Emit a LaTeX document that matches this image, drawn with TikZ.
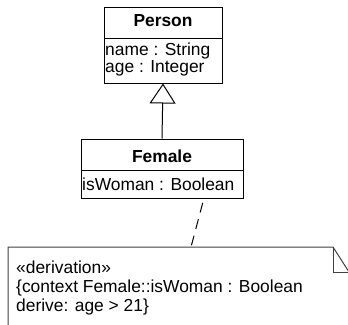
\documentclass[tikz,border=0pt]{standalone}
\usepackage{fontspec}
\setmainfont{Liberation Sans}
\usetikzlibrary{arrows.meta}
\tikzset{
  x=1pt, y=-1pt,
  umlbox/.style={draw, line width=1pt, inner sep=0pt, minimum width=#1},
  txt/.style={inner sep=0pt, anchor=base west, font=\fontsize{17.4}{19.5}\selectfont},
  ttl/.style={inner sep=0pt, anchor=base, font=\fontsize{17.4}{19.5}\selectfont\bfseries},
  notebox/.style={draw=black!75, line width=1pt},
  gen/.style={line width=1pt, -{Triangle[open, length=20pt, width=26pt, line width=1pt]}},
  link/.style={line width=1pt, dash pattern=on 10pt off 7pt, dash phase=12pt}
}
\begin{document}
\begin{tikzpicture}
\useasboundingbox (0,0) rectangle (348,324);
\clip (0,0) rectangle (348,324);
% Person
\node[umlbox=118pt, minimum height=31pt] (personH) at (163,22.5) {};
\node[umlbox=118pt, minimum height=45pt] (personA) at (163,60.5) {};
\node[ttl] (personT) at (163,27) {Person};
\node[txt] (personA1) at (105,55.5) {name : String};
\node[txt] (personA2) at (105,72.5) {age : Integer};
% Female
\node[umlbox=162pt, minimum height=31pt] (femaleH) at (162,154.5) {};
\node[umlbox=162pt, minimum height=28pt] (femaleA) at (162,184) {};
\node[ttl] (femaleT) at (162,162) {Female};
\node[txt] (femaleA1) at (82,190) {isWoman : Boolean};
% generalization
\draw[gen] (femaleH.north) -- (personA.south);
% note
\coordinate (nTL) at (8,247);
\coordinate (nFold) at (333,247);
\coordinate (nFoldB) at (333,272);
\coordinate (nR) at (349,272);
\draw[notebox] (8,330) -- (nTL) -- (nFold) -- (nR) -- (349,330);
\draw[notebox] (nFold) -- (nFoldB) -- (nR);
\node[txt] (n1) at (16,273.3) {«derivation»};
\node[txt] (n2) at (16,292.3) {\{context Female::isWoman : Boolean};
\node[txt] (n3) at (16,311.7) {derive: age > 21\}};
% anchor link
\coordinate (linkA) at (204,198);
\coordinate (linkB) at (191,247);
\draw[link] (linkA) -- (linkB);
\end{tikzpicture}
\end{document}
